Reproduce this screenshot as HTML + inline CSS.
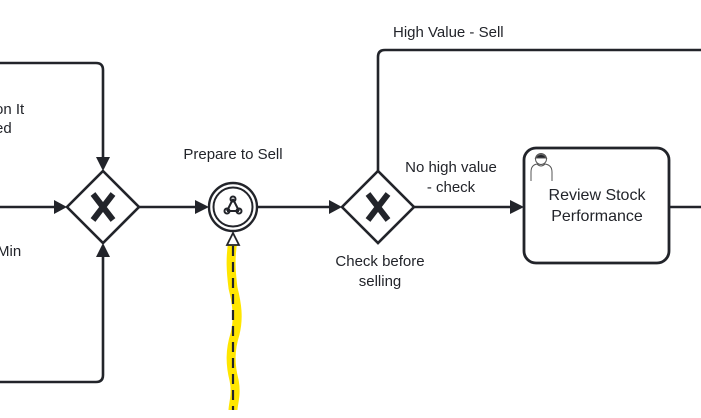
<!DOCTYPE html>
<html><head><meta charset="utf-8"><style>
html,body{margin:0;padding:0;background:#fff;}
svg{display:block;}
text{font-family:"Liberation Sans",Arial,sans-serif;font-size:15px;fill:#22242a;}
</style></head><body>
<svg width="701" height="418" viewBox="0 0 701 418" xmlns="http://www.w3.org/2000/svg">
<g stroke="#22242a" stroke-width="2.6" fill="none" stroke-linejoin="round">
<path d="M0 63 H96 Q103 63 103 70 V158"/>
<path d="M0 382 H96 Q103 382 103 375 V256"/>
<path d="M0 207 H56"/>
<path d="M139 207 H196"/>
<path d="M257 207 H331"/>
<path d="M378 171 V57 Q378 50 385 50 H701"/>
<path d="M414 207 H512"/>
<path d="M669 207 H701"/>
</g>
<g fill="#22242a">
<path d="M96 157 L110 157 L103 171 Z"/>
<path d="M96 257 L110 257 L103 243 Z"/>
<path d="M54 200 L67 207 L54 214 Z"/>
<path d="M195 200 L209 207 L195 214 Z"/>
<path d="M329 200 L342 207 L329 214 Z"/>
<path d="M510 200 L524 207 L510 214 Z"/>
</g>
<!-- yellow highlight -->
<path d="M233 240 C230 258 231 272 233 288 C237 304 239 318 235 334 C230 350 230 364 234 380 C237 394 233 404 233 410" stroke="#ffe600" stroke-width="9" fill="none"/>
<path d="M233 246 V410" stroke="#22242a" stroke-width="2.2" stroke-dasharray="10 6" fill="none"/>
<path d="M227 245 L233 233 L239 245 Z" fill="#fff" stroke="#22242a" stroke-width="1.8"/>
<!-- gateways -->
<g stroke="#22242a" stroke-width="2.6" fill="#fff">
<path d="M103 171 L139 207 L103 243 L67 207 Z"/>
<path d="M378 171 L414 207 L378 243 L342 207 Z"/>
</g>
<g stroke="#22242a" stroke-width="6" stroke-linecap="butt">
<path d="M93 194 L113 220 M113 194 L93 220"/>
<path d="M368 194 L388 220 M388 194 L368 220"/>
</g>
<!-- event -->
<circle cx="233" cy="207" r="24" fill="#fff" stroke="#22242a" stroke-width="2.4"/>
<circle cx="233" cy="207" r="19.5" fill="none" stroke="#22242a" stroke-width="2"/>
<g stroke="#22242a" stroke-width="2" fill="none">
<path d="M233 199 L227 211 M233 199 L239 211 M227 211 H239"/>
<circle cx="233" cy="199" r="2.5"/><circle cx="227" cy="211" r="2.5"/><circle cx="239" cy="211" r="2.5"/>
</g>
<!-- task -->
<rect x="524" y="148" width="145" height="115" rx="12" fill="#fff" stroke="#22242a" stroke-width="2.8"/>
<g stroke="#555" stroke-width="1" fill="#fff">
<path d="M531 181 V172 Q531 165 537 164 Q541 168 545 164 Q552 165 552 172 V181"/>
<circle cx="541" cy="159" r="5.5"/>
<path d="M535.5 158 Q541 151 546.5 158 Z" fill="#22242a"/>
</g>
<!-- labels -->
<text x="393" y="37">High Value - Sell</text>
<text x="233" y="159" text-anchor="middle">Prepare to Sell</text>
<text x="451" y="172" text-anchor="middle">No high value</text>
<text x="451" y="192" text-anchor="middle">- check</text>
<text x="380" y="266" text-anchor="middle">Check before</text>
<text x="380" y="286" text-anchor="middle">selling</text>
<text x="597" y="200" text-anchor="middle" style="font-size:16px">Review Stock</text>
<text x="597" y="221" text-anchor="middle" style="font-size:16px">Performance</text>
<text x="-5" y="114">on It</text>
<text x="-5" y="133">ed</text>
<text x="-3" y="256">Min</text>
</svg>
</body></html>
